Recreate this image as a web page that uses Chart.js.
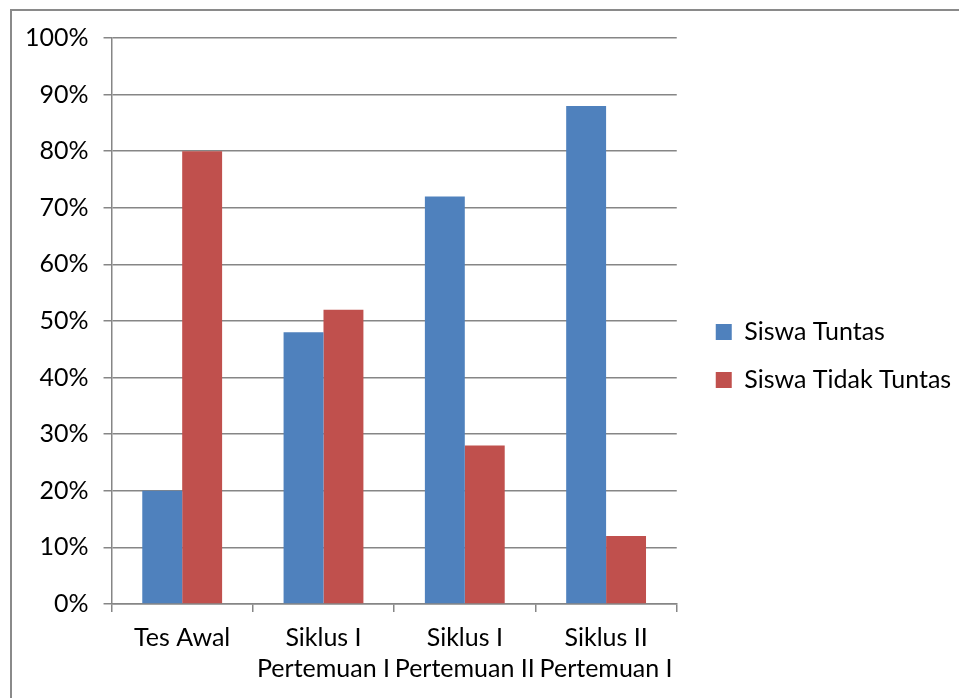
<!DOCTYPE html>
<html>
<head>
<meta charset="utf-8">
<script src="https://cdn.jsdelivr.net/npm/chart.js@4.4.0/dist/chart.umd.min.js"></script>
<style>
  html, body { margin: 0; padding: 0; background: #fff; overflow: hidden; }
  #wrap { position: relative; width: 959px; height: 698px; }
  #frame { position: absolute; left: 10px; top: 9px; width: 1000px; height: 800px;
           border: 2px solid #8a8a8a; box-sizing: border-box; }
  canvas { position: absolute; left: 0; top: 0; }
</style>
</head>
<body>
<div id="wrap">
  <div id="frame"></div>
  <canvas id="c" width="959" height="698"></canvas>
</div>
<script>
const categories = [["Tes Awal"], ["Siklus I", "Pertemuan I"], ["Siklus I", "Pertemuan II"], ["Siklus II", "Pertemuan I"]];
const seriesNames = ["Siswa Tuntas", "Siswa Tidak Tuntas"];
const tuntas = [20, 48, 72, 88];
const tidakTuntas = [80, 52, 28, 12];
const seriesColors = ["#4F81BD", "#C0504D"];

const FONT = "Lato, 'Open Sans', sans-serif";
const GRID = "#868686";

const legendShift = {
  id: 'legendShift',
  afterLayout(chart) {
    const l = chart.legend;
    l.left += 16;
    l.right = chart.width;
    l.width = l.right - l.left;
    l.top -= 20;
    l.height = l.bottom - l.top;
  }
};

new Chart(document.getElementById('c'), {
  type: 'bar',
  data: {
    labels: categories,
    datasets: [
      { label: seriesNames[0], data: tuntas, backgroundColor: seriesColors[0], borderWidth: 0 },
      { label: seriesNames[1], data: tidakTuntas, backgroundColor: seriesColors[1], borderWidth: 0 }
    ]
  },
  options: {
    responsive: false,
    animation: false,
    devicePixelRatio: 1,
    layout: { padding: { left: 10, right: 60, top: 38, bottom: 4 } },
    datasets: { bar: { categoryPercentage: 0.565, barPercentage: 1.0 } },
    scales: {
      x: {
        grid: { drawOnChartArea: false, drawTicks: true, tickLength: 8, offset: true, color: GRID, lineWidth: 1.5 },
        border: { color: GRID, width: 1.5 },
        ticks: { color: '#000', font: { family: FONT, size: 25, lineHeight: 1.24 }, padding: 10, maxRotation: 0, autoSkip: false }
      },
      y: {
        min: 0, max: 100,
        grid: { color: GRID, lineWidth: 1.5, tickLength: 8 },
        border: { color: GRID, width: 1.5 },
        ticks: { stepSize: 10, color: '#000', font: { family: FONT, size: 25 }, padding: 15,
                 callback: v => v + '%' }
      }
    },
    plugins: {
      legend: {
        position: 'right',
        labels: { boxWidth: 16, boxHeight: 16, padding: 23, color: '#000', font: { family: FONT, size: 25 } }
      },
      tooltip: { enabled: false }
    }
  },
  plugins: [legendShift]
});
</script>
</body>
</html>
